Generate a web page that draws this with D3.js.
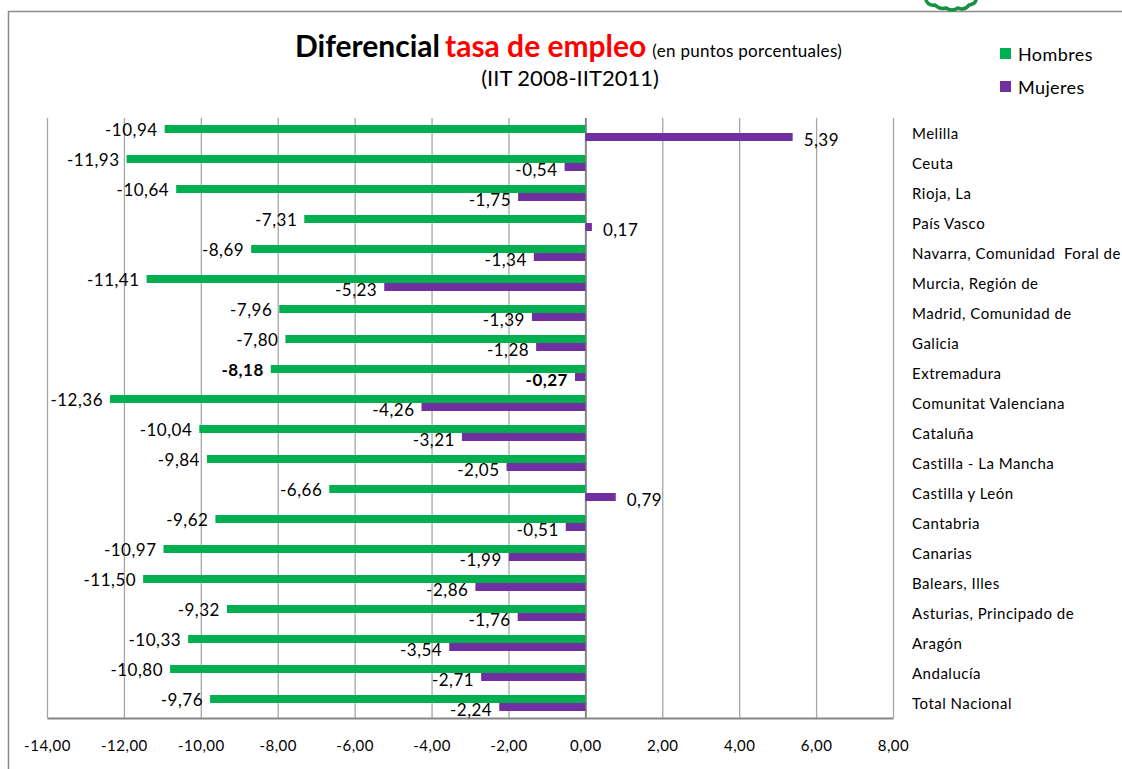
<!DOCTYPE html>
<html>
<head>
<meta charset="utf-8">
<script src="https://cdn.jsdelivr.net/npm/d3@7"></script>
<style>
  body { margin: 0; background: #fff; }
  svg { display: block; font-family: Lato, "Open Sans", sans-serif; }
</style>
</head>
<body>
<div id="chart"></div>
<script>
// data, top to bottom
let regions = ["Melilla", "Ceuta", "Rioja, La", "País Vasco", "Navarra, Comunidad  Foral de",
    "Murcia, Región de", "Madrid, Comunidad de", "Galicia", "Extremadura", "Comunitat Valenciana",
    "Cataluña", "Castilla - La Mancha", "Castilla y León", "Cantabria", "Canarias",
    "Balears, Illes", "Asturias, Principado de", "Aragón", "Andalucía", "Total Nacional"]
let hombres = [-10.94, -11.93, -10.64, -7.31, -8.69, -11.41, -7.96, -7.80, -8.18, -12.36,
    -10.04, -9.84, -6.66, -9.62, -10.97, -11.50, -9.32, -10.33, -10.80, -9.76]
let mujeres = [5.39, -0.54, -1.75, 0.17, -1.34, -5.23, -1.39, -1.28, -0.27, -4.26,
    -3.21, -2.05, 0.79, -0.51, -1.99, -2.86, -1.76, -3.54, -2.71, -2.24]
let series = ["Hombres", "Mujeres"]
let tickValues = [-14, -12, -10, -8, -6, -4, -2, 0, 2, 4, 6, 8]
let boldRegion = "Extremadura"

let width = 1122, height = 769
let colors = { Hombres: "#00b050", Mujeres: "#7030a0" }
let fmt = v => v.toFixed(2).replace(".", ",")

let svg = d3.select("#chart")
    .append("svg")
    .attr("width", width)
    .attr("height", height)

// frame of the slide
svg.append("path")
    .attr("d", "M8.5,769 V11.5 H1122")
    .attr("fill", "none")
    .attr("stroke", "#8c8c8c")
    .attr("stroke-width", 1.5)

// bit of logo peeking in at the top right
svg.append("path")
    .attr("d", "M926,0 q2,6 9,5 q5,5 11,3 q6,4 12,0 q7,3 11,-3 q6,-1 7,-5")
    .attr("fill", "none")
    .attr("stroke", "#15913f")
    .attr("stroke-width", 3.5)
    .attr("stroke-linecap", "round")

let x = d3.scaleLinear()
    .domain([-14, 8])
    .range([47, 893])

let y = d3.scaleBand()
    .domain(regions)
    .range([118, 718])

let ySub = d3.scaleBand()
    .domain(series)
    .range([0, y.bandwidth()])
    .paddingOuter(0.875)

// gridlines
svg.append("g")
    .selectAll("line")
    .data(tickValues)
    .enter()
    .append("line")
    .attr("x1", d => x(d) + 0.5)
    .attr("x2", d => x(d) + 0.5)
    .attr("y1", 118)
    .attr("y2", 718)
    .attr("stroke", d => d === 0 ? "#868686" : "#a6a6a6")
    .attr("stroke-width", d => d === 0 ? 2 : 1.3)

// bottom axis
let xAxis = d3.axisBottom(x)
    .tickValues(tickValues)
    .tickSize(0)
    .tickPadding(22)
    .tickFormat(fmt)

let axisG = svg.append("g")
    .attr("transform", "translate(0,718)")
    .call(xAxis)
axisG.select(".domain")
    .attr("stroke", "#868686")
    .attr("stroke-width", 2)
axisG.selectAll("text")
    .attr("font-family", "Lato, sans-serif")
    .style("font-size", "15px")
    .style("letter-spacing", "0.5px")
    .attr("fill", "#000")

let rows = regions.map((r, i) => ({ region: r, Hombres: hombres[i], Mujeres: mujeres[i] }))
let bars = []
rows.forEach(row => series.forEach(s => bars.push({ region: row.region, key: s, value: row[s] })))

// bars
svg.append("g")
    .selectAll("rect")
    .data(bars)
    .enter()
    .append("rect")
    .attr("x", d => x(Math.min(0, d.value)))
    .attr("width", d => Math.abs(x(d.value) - x(0)))
    .attr("y", d => y(d.region) + ySub(d.key))
    .attr("height", ySub.bandwidth())
    .attr("fill", d => colors[d.key])

// value labels
svg.append("g")
    .selectAll("text")
    .data(bars)
    .enter()
    .append("text")
    .attr("x", d => d.value < 0 ? x(d.value) - 7 : x(d.value) + 11)
    .attr("y", d => y(d.region) + ySub(d.key) + ySub.bandwidth() / 2 + (d.key === "Mujeres" ? 2 : 0))
    .attr("dominant-baseline", "central")
    .attr("text-anchor", d => d.value < 0 ? "end" : "start")
    .style("font-size", "17px")
    .style("letter-spacing", "0.5px")
    .style("font-weight", d => d.region === boldRegion ? "bold" : "normal")
    .text(d => fmt(d.value))

// category labels on the right
svg.append("g")
    .selectAll("text")
    .data(regions)
    .enter()
    .append("text")
    .attr("x", 912)
    .attr("y", d => y(d) + y.bandwidth() / 2)
    .attr("dominant-baseline", "central")
    .style("font-size", "15px")
    .style("letter-spacing", "0.5px")
    .style("white-space", "pre")
    .text(d => d)

// title
let title = svg.append("text")
    .attr("x", 295)
    .attr("y", 57)
    .style("white-space", "pre")
title.append("tspan")
    .style("font-size", "30px")
    .style("font-weight", "bold")
    .text("Diferencial")
title.append("tspan")
    .attr("dx", 5)
    .style("font-size", "30px")
    .style("font-weight", "bold")
    .attr("fill", "#ff0000")
    .text("tasa de empleo")
title.append("tspan")
    .attr("dx", 6)
    .style("font-size", "17px")
    .style("letter-spacing", "0.3px")
    .text("(en puntos porcentuales)")

svg.append("text")
    .attr("x", 570)
    .attr("y", 86)
    .attr("text-anchor", "middle")
    .style("font-size", "22px")
    .text("(IIT 2008-IIT2011)")

// legend
let legend = svg.append("g")
    .attr("transform", "translate(1000,48)")
legend.selectAll("rect")
    .data(series)
    .enter()
    .append("rect")
    .attr("y", (d, i) => i * 33)
    .attr("width", 11)
    .attr("height", 11)
    .attr("fill", d => colors[d])
legend.selectAll("text")
    .data(series)
    .enter()
    .append("text")
    .attr("x", 18)
    .attr("y", (d, i) => i * 33 + 6)
    .attr("dominant-baseline", "central")
    .style("font-size", "18px")
    .style("letter-spacing", "0.4px")
    .text(d => d)
</script>
</body>
</html>
